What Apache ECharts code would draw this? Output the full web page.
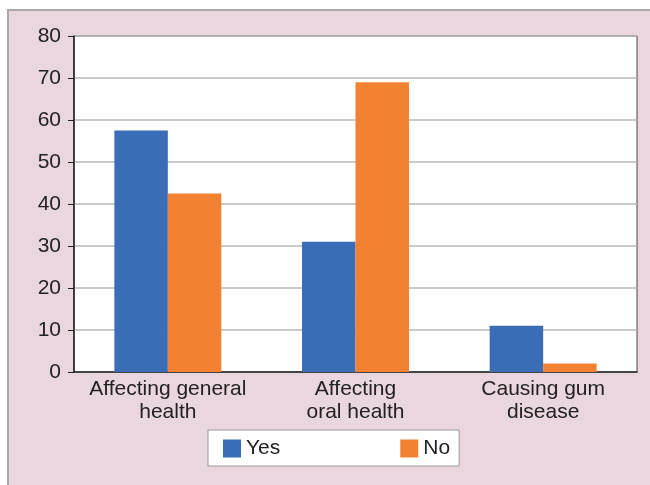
<!DOCTYPE html>
<html>
<head>
<meta charset="utf-8">
<script src="https://cdn.jsdelivr.net/npm/echarts@6/dist/echarts.min.js"></script>
<style>
  html, body { margin: 0; padding: 0; background: #ffffff; }
  #chart { width: 650px; height: 485px; }
</style>
</head>
<body>
<div id="chart"></div>
<script>
// Survey responses (%) by statement
const categories = ['Affecting general\nhealth', 'Affecting\noral health', 'Causing gum\ndisease'];
const yesValues = [57.5, 31, 11];
const noValues = [42.5, 69, 2];
const yTicks = [0, 10, 20, 30, 40, 50, 60, 70, 80];

const FONT = '"Liberation Sans", Arial, sans-serif';
const chart = echarts.init(document.getElementById('chart'), null, { renderer: 'canvas' });

chart.setOption({
  animation: false,
  backgroundColor: '#ffffff',
  graphic: [{
    type: 'rect',
    z: -10,
    shape: { x: 8, y: 10, width: 650, height: 485 },
    style: { fill: '#ead6df', stroke: '#a9a9a9', lineWidth: 2 }
  }],
  textStyle: { fontFamily: FONT, color: '#222' },
  grid: {
    left: 74, top: 36, right: 13, bottom: 113,
    show: true, backgroundColor: '#ffffff', borderColor: '#444444', borderWidth: 1
  },
  legend: {
    data: ['Yes', 'No'],
    left: 208, top: 430,
    padding: [8, 9, 7, 15],
    itemWidth: 18, itemHeight: 18, itemGap: 120, itemTextGap: 10,
    icon: 'rect',
    backgroundColor: '#ffffff', borderColor: '#9a9a9a', borderWidth: 1,
    textStyle: { fontFamily: FONT, fontSize: 21, color: '#222' }
  },
  xAxis: {
    type: 'category',
    data: categories,
    axisLine: { lineStyle: { color: '#222', width: 1.5 } },
    axisTick: { show: false },
    axisLabel: { fontFamily: FONT, fontSize: 21, lineHeight: 23, color: '#222', margin: 6, interval: 0 }
  },
  yAxis: {
    type: 'value',
    min: yTicks[0], max: yTicks[yTicks.length - 1], interval: 10,
    axisLine: { show: true, lineStyle: { color: '#222', width: 1.5 } },
    axisTick: { show: true, length: 6, lineStyle: { color: '#222' } },
    axisLabel: { fontFamily: FONT, fontSize: 21, color: '#222', margin: 13 },
    splitLine: { lineStyle: { color: '#b8b8b8', width: 1.5 } }
  },
  series: [
    { name: 'Yes', type: 'bar', data: yesValues, barWidth: '28.5%', barGap: '0%',
      itemStyle: { color: '#3a6db6' } },
    { name: 'No', type: 'bar', data: noValues, barWidth: '28.5%',
      itemStyle: { color: '#f28232' } }
  ]
});
</script>
</body>
</html>
